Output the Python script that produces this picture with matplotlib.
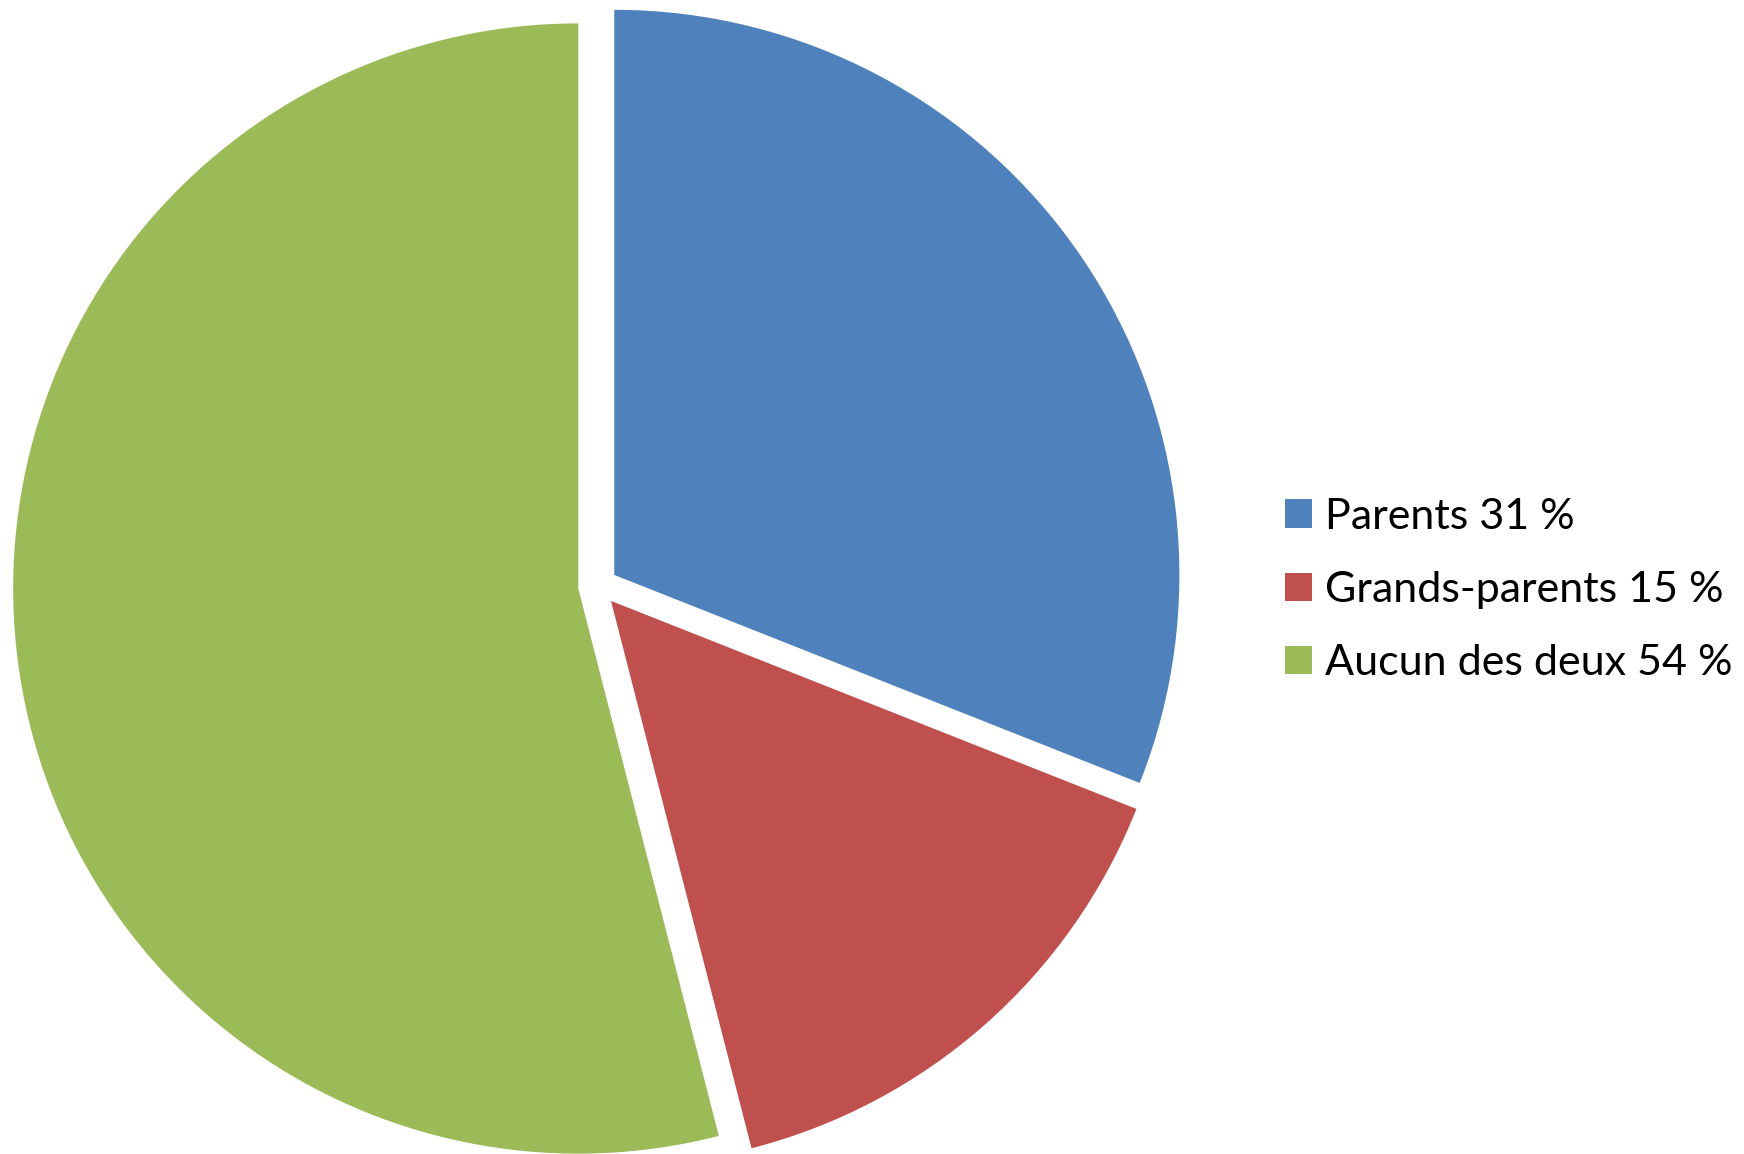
import matplotlib
matplotlib.use("Agg")
import matplotlib.pyplot as plt

# datos del grafico
etiquetas = ["Parents 31 %", "Grands-parents 15 %", "Aucun des deux 54 %"]
valores = [31, 15, 54]
colores = ["#4F81BD", "#C0504D", "#9BBB59"]

plt.rcParams['font.family'] = ['Lato', 'DejaVu Sans']

fig = plt.figure(figsize=(17.44, 11.54), dpi=100)
ax = fig.add_axes([0, 0, 1, 1])

cunas, _ = ax.pie(valores, colors=colores, startangle=90, counterclock=False,
                  explode=[0.035, 0.035, 0.035], radius=1,
                  wedgeprops=dict(linewidth=0))

ax.set_xlim(-1.058, 2.028)
ax.set_ylim(-1.005, 1.037)
ax.set_aspect('auto')
ax.axis('off')

# leyenda a la derecha
ley = ax.legend(cunas, etiquetas, loc='center left',
                bbox_to_anchor=(1285 / 1744, 1 - 590 / 1154),
                bbox_transform=fig.transFigure, frameon=False,
                fontsize=31, handlelength=0.63, handleheight=0.63,
                handletextpad=0.3, labelspacing=0.82, borderpad=0, borderaxespad=0)

fig.savefig("out.png", dpi=100)
